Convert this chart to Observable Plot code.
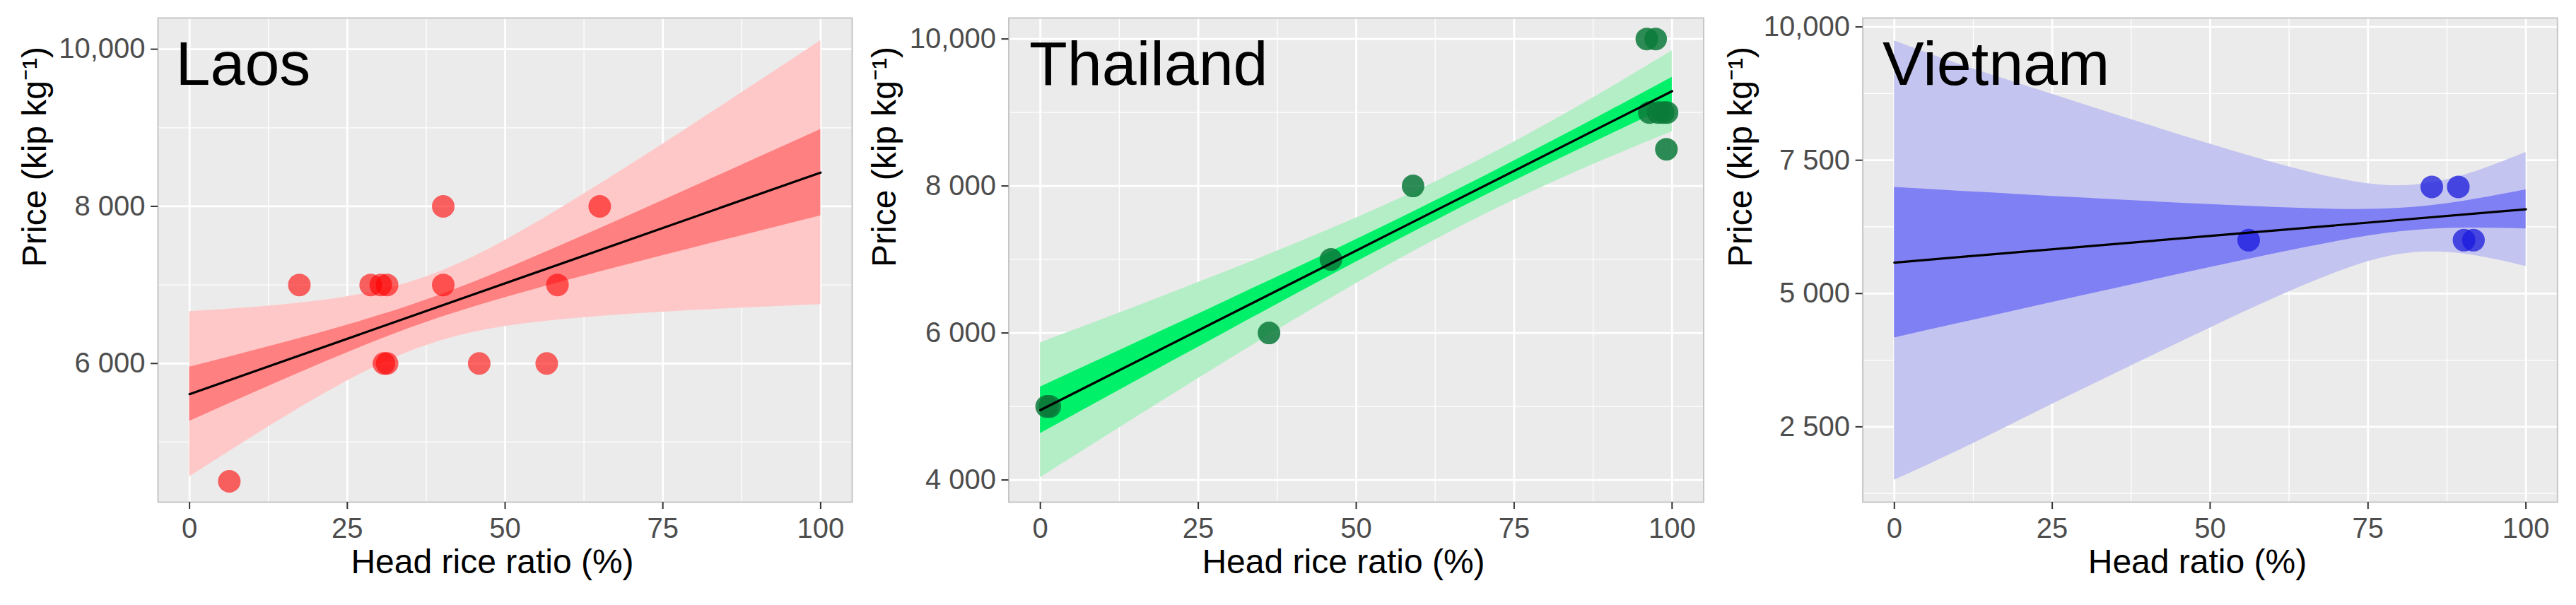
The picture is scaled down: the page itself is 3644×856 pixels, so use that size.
<!DOCTYPE html>
<html><head><meta charset="utf-8">
<script src="https://cdn.jsdelivr.net/npm/d3@7"></script>
<script src="https://cdn.jsdelivr.net/npm/@observablehq/plot@0.6"></script>
<style>
html,body{margin:0;padding:0;background:#fff;}
#wrap{position:relative;width:3644px;height:856px;overflow:hidden;background:#fff;}
.panel{position:absolute;top:0;}
</style></head><body><div id="wrap"></div>
<script>
// ---- shared ----
const xTicks = [0, 25, 50, 75, 100];
const xMinor = [12.5, 37.5, 62.5, 87.5];
const bandX = [0, 10, 20, 30, 40, 50, 60, 70, 80, 90, 100];
const fitX = [0, 100];
const yTitle = "Price (kip kg\u207B\u00B9)";

// ---- Laos ----
const laosHeadRice = [6.3, 17.4, 28.7, 30.3, 31.3, 40.2, 58.3, 40.2, 65.0, 30.8, 31.3, 45.9, 56.6];
const laosPrice    = [4500, 7000, 7000, 7000, 7000, 7000, 7000, 8000, 8000, 6000, 6000, 6000, 6000];
const laosFit      = [5610, 8430];
const laosOuterLo  = [4559, 5069, 5554, 5983, 6296, 6472, 6568, 6630, 6677, 6716, 6751];
const laosOuterHi  = [6661, 6715, 6794, 6929, 7180, 7568, 8036, 8538, 9055, 9580, 10109];
const laosInnerLo  = [5265, 5622, 5971, 6301, 6593, 6840, 7061, 7271, 7476, 7679, 7880];
const laosInnerHi  = [5955, 6162, 6377, 6611, 6883, 7200, 7543, 7897, 8256, 8617, 8980];
const laosTicks = [6000, 8000, 10000];
const laosTickLabels = ["6 000", "8 000", "10,000"];
const laosMinor = [5000, 7000, 9000];

// ---- Thailand ----
const thaiHeadRice = [1.0, 1.5, 36.2, 46.0, 59.0, 96.0, 97.4, 96.4, 97.8, 98.6, 99.2, 99.1];
const thaiPrice    = [5000, 5000, 6000, 7000, 8000, 10000, 10000, 9000, 9000, 9000, 9000, 8500];
const thaiFit      = [4950, 9290];
const thaiOuterLo  = [4033, 4576, 5115, 5647, 6169, 6675, 7154, 7600, 8008, 8385, 8740];
const thaiOuterHi  = [5867, 6192, 6521, 6857, 7203, 7565, 7954, 8376, 8836, 9327, 9840];
const thaiInnerLo  = [4634, 5105, 5576, 6043, 6508, 6967, 7416, 7854, 8279, 8694, 9100];
const thaiInnerHi  = [5266, 5663, 6060, 6461, 6864, 7273, 7692, 8122, 8565, 9018, 9480];
const thaiTicks = [4000, 6000, 8000, 10000];
const thaiTickLabels = ["4 000", "6 000", "8 000", "10,000"];
const thaiMinor = [5000, 7000, 9000];

// ---- Vietnam ----
const vietHeadRatio = [56.1, 85.1, 89.3, 90.2, 91.7];
const vietPrice     = [6000, 7000, 7000, 6000, 6000];
const vietFit       = [5580, 6580];
const vietOuterLo   = [1500, 2047, 2632, 3213, 3789, 4356, 4903, 5397, 5736, 5747, 5510];
const vietOuterHi   = [9740, 9313, 8928, 8547, 8171, 7804, 7457, 7163, 7024, 7213, 7650];
const vietInnerLo   = [4169, 4436, 4702, 4967, 5230, 5490, 5743, 5978, 6159, 6229, 6214];
const vietInnerHi   = [6991, 6924, 6858, 6793, 6730, 6670, 6617, 6582, 6601, 6731, 6946];
const vietTicks = [2500, 5000, 7500, 10000];
const vietTickLabels = ["2 500", "5 000", "7 500", "10,000"];
const vietMinor = [1250, 3750, 6250, 8750];

const FONT = "'Liberation Sans', Arial, Helvetica, sans-serif";

function panel(cfg) {
  const labelMap = new Map(cfg.ticks.map((t, i) => [t, cfg.tickLabels[i]]));
  const band = bandX.map((x, i) => ({x, olo: cfg.olo[i], ohi: cfg.ohi[i], ilo: cfg.ilo[i], ihi: cfg.ihi[i]}));
  const pts = cfg.px.map((x, i) => ({x, y: cfg.py[i]}));
  const fit = fitX.map((x, i) => ({x, y: cfg.fit[i]}));
  const svg = Plot.plot({
    width: cfg.width, height: 856,
    marginLeft: cfg.marginLeft, marginRight: cfg.marginRight, marginTop: 25, marginBottom: 146,
    x: {domain: [-5, 105]},
    y: {domain: cfg.yDomain},
    style: {fontFamily: FONT, background: "transparent", overflow: "visible"},
    marks: [
      Plot.frame({fill: "#ebebeb"}),
      Plot.gridX(xMinor, {stroke: "#ffffff", strokeOpacity: 1, strokeWidth: 1.3}),
      Plot.gridY(cfg.minor, {stroke: "#ffffff", strokeOpacity: 1, strokeWidth: 1.3}),
      Plot.gridX(xTicks, {stroke: "#ffffff", strokeOpacity: 1, strokeWidth: 2.8}),
      Plot.gridY(cfg.ticks, {stroke: "#ffffff", strokeOpacity: 1, strokeWidth: 2.8}),
      Plot.areaY(band, {x: "x", y1: "olo", y2: "ohi", fill: cfg.outer, curve: "natural"}),
      Plot.areaY(band, {x: "x", y1: "ilo", y2: "ihi", fill: cfg.inner, curve: "natural"}),
      Plot.dot(pts, {x: "x", y: "y", r: 16, fill: cfg.pt, fillOpacity: cfg.ptOpacity, stroke: "none"}),
      Plot.line(fit, {x: "x", y: "y", stroke: "#000", strokeWidth: 3.2}),
      Plot.frame({stroke: "#c6c6c6", strokeWidth: 2}),
      Plot.axisX(xTicks, {tickSize: 10, tickPadding: 12, fontSize: 40, stroke: "#333", fill: "#4d4d4d", strokeWidth: 2, label: null}),
      Plot.axisY(cfg.ticks, {tickSize: 10, tickPadding: 8, fontSize: 40, stroke: "#333", fill: "#4d4d4d", strokeWidth: 2, tickFormat: d => labelMap.get(d), label: null}),
      Plot.text([cfg.title], {frameAnchor: "top-left", dx: cfg.titleDx, dy: 32, fontSize: 88, textAnchor: "start", lineAnchor: "top", fill: "#000"}),
      Plot.text([cfg.xlabel], {frameAnchor: "bottom", dx: -18, dy: 100, fontSize: 48, fill: "#000"}),
      Plot.text([yTitle], {frameAnchor: "left", rotate: -90, dx: cfg.yTitleDx, dy: 10, fontSize: 48, fill: "#000"})
    ]
  });
  const div = document.createElement("div");
  div.className = "panel";
  div.style.left = cfg.left + "px";
  div.appendChild(svg);
  document.getElementById("wrap").appendChild(div);
}

panel({
  left: 0, width: 1215, marginLeft: 223, marginRight: 10,
  yDomain: [4235, 10397], ticks: laosTicks, tickLabels: laosTickLabels, minor: laosMinor,
  olo: laosOuterLo, ohi: laosOuterHi, ilo: laosInnerLo, ihi: laosInnerHi,
  px: laosHeadRice, py: laosPrice, fit: laosFit,
  outer: "#ffc8c8", inner: "#ff8080", pt: "#ff0000", ptOpacity: 0.6,
  title: "Laos", titleDx: 25, xlabel: "Head rice ratio (%)", yTitleDx: -174
});
panel({
  left: 1215, width: 1205, marginLeft: 211.5, marginRight: 10.5,
  yDomain: [3698, 10285], ticks: thaiTicks, tickLabels: thaiTickLabels, minor: thaiMinor,
  olo: thaiOuterLo, ohi: thaiOuterHi, ilo: thaiInnerLo, ihi: thaiInnerHi,
  px: thaiHeadRice, py: thaiPrice, fit: thaiFit,
  outer: "#b4eec6", inner: "#00f06a", pt: "#0b7a3a", ptOpacity: 0.85,
  title: "Thailand", titleDx: 29, xlabel: "Head rice ratio (%)", yTitleDx: -175
});
panel({
  left: 2420, width: 1224, marginLeft: 214.6, marginRight: 26.7,
  yDomain: [1087, 10167], ticks: vietTicks, tickLabels: vietTickLabels, minor: vietMinor,
  olo: vietOuterLo, ohi: vietOuterHi, ilo: vietInnerLo, ihi: vietInnerHi,
  px: vietHeadRatio, py: vietPrice, fit: vietFit,
  outer: "#c4c4f0", inner: "#8080f5", pt: "#1a1adc", ptOpacity: 0.75,
  title: "Vietnam", titleDx: 28, xlabel: "Head ratio (%)", yTitleDx: -172
});
</script>
</body></html>
